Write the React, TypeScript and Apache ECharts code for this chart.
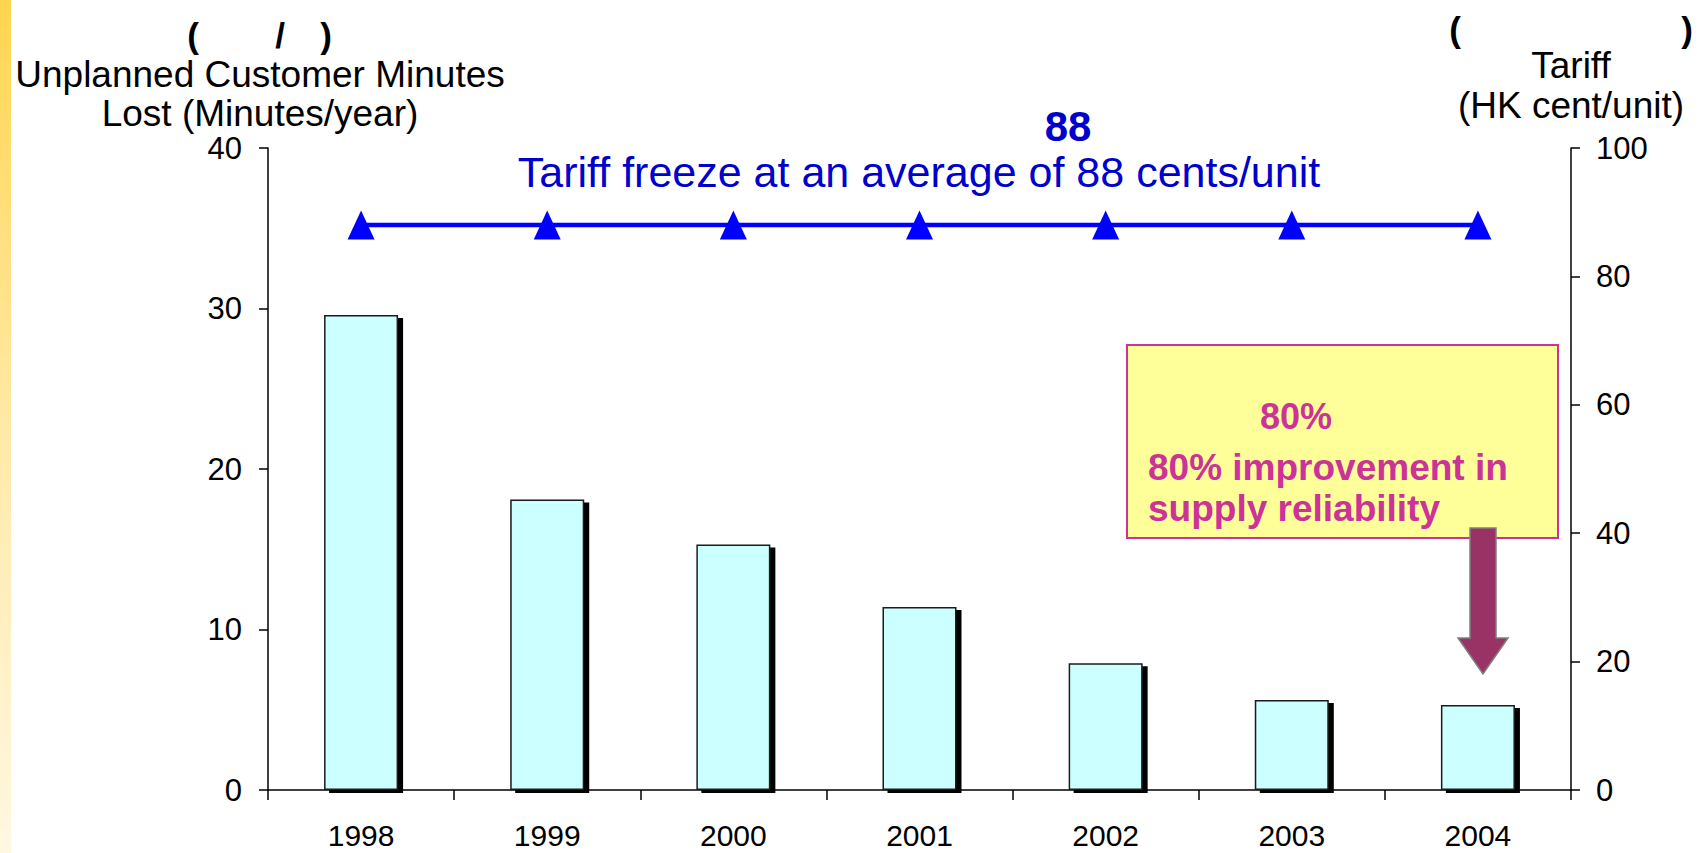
import React, { useEffect, useRef } from "react";
import * as echarts from "echarts";

const years = ["1998", "1999", "2000", "2001", "2002", "2003", "2004"];
const minutesLost = [29.6, 18.1, 15.3, 11.4, 7.9, 5.6, 5.3];
const tariffCents = [88, 88, 88, 88, 88, 88, 88];
const leftAxisRange = [0, 40, 10];
const rightAxisRange = [0, 100, 20];

const FONT = '"Liberation Sans", Arial, Helvetica, sans-serif';

function txt(text: string, x: number, y: number, size: number, color: string, bold = false, align = "center") {
  return {
    type: "text",
    x,
    y,
    silent: true,
    style: {
      text,
      fill: color,
      font: `${bold ? "bold " : ""}${size}px ${FONT}`,
      align,
      verticalAlign: "middle",
      textAlign: align,
      textVerticalAlign: "middle",
    },
  };
}

export default function App() {
  const ref = useRef<HTMLDivElement>(null);

  useEffect(() => {
    if (!ref.current) return;
    const chart = echarts.init(ref.current, null, { renderer: "svg" });
    const option: any = {
      animation: false,
      backgroundColor: "#ffffff",
      grid: { left: 268, right: 128, top: 148, bottom: 63, containLabel: false },
      xAxis: {
        type: "category",
        data: years,
        axisLine: { show: true, lineStyle: { color: "#000", width: 1.5 } },
        axisTick: { show: true, alignWithLabel: false, length: 10, lineStyle: { color: "#000", width: 1.5 } },
        axisLabel: { color: "#000", fontSize: 30, lineHeight: 30, fontFamily: FONT, margin: 30 },
        splitLine: { show: false },
      },
      yAxis: [
        {
          type: "value",
          min: leftAxisRange[0],
          max: leftAxisRange[1],
          interval: leftAxisRange[2],
          position: "left",
          axisLine: { show: true, lineStyle: { color: "#000", width: 1.5 } },
          axisTick: { show: true, length: 9, lineStyle: { color: "#000", width: 1.5 } },
          axisLabel: { color: "#000", fontSize: 31, fontFamily: FONT, margin: 26 },
          splitLine: { show: false },
        },
        {
          type: "value",
          min: rightAxisRange[0],
          max: rightAxisRange[1],
          interval: rightAxisRange[2],
          position: "right",
          axisLine: { show: true, lineStyle: { color: "#000", width: 1.5 } },
          axisTick: { show: true, length: 9, lineStyle: { color: "#000", width: 1.5 } },
          axisLabel: { color: "#000", fontSize: 31, fontFamily: FONT, margin: 25 },
          splitLine: { show: false },
        },
      ],
      series: [
        {
          type: "bar",
          name: "Unplanned Customer Minutes Lost",
          data: minutesLost,
          yAxisIndex: 0,
          barWidth: 74,
          itemStyle: {
            color: "#CCFFFF",
            borderColor: "#1a1a1a",
            borderWidth: 1.5,
            shadowColor: "#000",
            shadowBlur: 0,
            shadowOffsetX: 5,
            shadowOffsetY: 3,
          },
        },
        {
          type: "line",
          name: "Tariff",
          data: tariffCents,
          yAxisIndex: 1,
          symbol: "triangle",
          symbolSize: [27, 29],
          lineStyle: { color: "#0000FF", width: 4.5 },
          itemStyle: { color: "#0000FF" },
          z: 5,
        },
      ],
      graphic: [
        {
          type: "rect",
          shape: { x: 0, y: 0, width: 11, height: 853 },
          silent: true,
          style: {
            fill: new echarts.graphic.LinearGradient(0, 0, 0, 1, [
              { offset: 0, color: "#FFD54F" },
              { offset: 0.5, color: "#FFE9A6" },
              { offset: 1, color: "#FFF8E1" },
            ]),
          },
        },
        txt("(", 193, 35, 35, "#000", true),
        txt("/", 280, 35, 35, "#000", true),
        txt(")", 326, 35, 35, "#000", true),
        txt("Unplanned Customer Minutes", 260, 74, 37, "#000"),
        txt("Lost (Minutes/year)", 260, 113, 37, "#000"),
        txt("(", 1455, 29, 35, "#000", true),
        txt(")", 1687, 29, 35, "#000", true),
        txt("Tariff", 1571, 65, 37, "#000"),
        txt("(HK cent/unit)", 1571, 105, 37, "#000"),
        txt("88", 1068, 126, 42, "#0000CC", true),
        txt("Tariff freeze at an average of 88 cents/unit", 919, 172, 43, "#0000CC"),
        {
          type: "rect",
          shape: { x: 1127, y: 345, width: 431, height: 193 },
          silent: true,
          style: { fill: "#FFFF99", stroke: "#CC3399", lineWidth: 2 },
        },
        txt("80%", 1296, 416, 36, "#CC3399", true),
        txt("80% improvement in", 1148, 467, 37, "#CC3399", true, "left"),
        txt("supply reliability", 1148, 508, 37, "#CC3399", true, "left"),
        {
          type: "polygon",
          silent: true,
          shape: {
            points: [
              [1470, 528],
              [1496, 528],
              [1496, 638],
              [1508, 638],
              [1483, 674],
              [1458, 638],
              [1470, 638],
            ],
          },
          style: { fill: "#993366", stroke: "#808080", lineWidth: 1.5 },
        },
      ],
    };
    chart.setOption(option);
    return () => chart.dispose();
  }, []);

  return (
    <div
      ref={ref}
      style={{ position: "absolute", left: 0, top: 0, width: 1699, height: 853 }}
    />
  );
}
